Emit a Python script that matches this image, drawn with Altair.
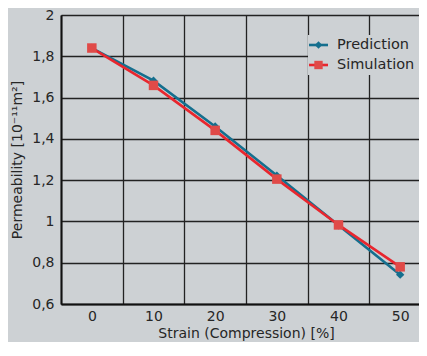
import altair as alt
import pandas as pd

strain = [0, 10, 20, 30, 40, 50]
prediction = [1.84, 1.682, 1.46, 1.222, 0.981, 0.742]
simulation = [1.84, 1.659, 1.441, 1.205, 0.983, 0.78]
series_names = ["Prediction", "Simulation"]
y_ticks = [0.6, 0.8, 1.0, 1.2, 1.4, 1.6, 1.8, 2.0]

rows = []
for s, p, m in zip(strain, prediction, simulation):
    rows.append({"strain": str(s), "value": p, "series": "Prediction"})
    rows.append({"strain": str(s), "value": m, "series": "Simulation"})
df = pd.DataFrame(rows)

TEAL = "#156f8e"
RED = "#e8262e"
RED_FILL = "#e04a48"
BG = "#cdd1d4"
TXT = "#262626"
FONT = "DejaVu Sans"

x_enc = alt.X("strain:O", sort=[str(s) for s in strain],
              title="Strain (Compression) [%]",
              scale=alt.Scale(paddingInner=0, paddingOuter=0, range=[0, 370]),
              axis=alt.Axis(labelAngle=0, tickBand="extent", grid=True,
                            ticks=False, labelPadding=5, titlePadding=3))
y_enc = alt.Y("value:Q", title="Permeability [10⁻¹¹m²]",
              scale=alt.Scale(domain=[0.6, 2.0], nice=False, zero=False),
              axis=alt.Axis(values=y_ticks, ticks=False, grid=True,
                            labelExpr="replace(format(datum.value, '~g'), '.', ',')",
                            labelPadding=7, titlePadding=7))

pred_df = df[df.series == "Prediction"]
sim_df = df[df.series == "Simulation"]

pred_line = alt.Chart(pred_df).mark_line(strokeWidth=2.6, color=TEAL).encode(x=x_enc, y=y_enc)
pred_pts = alt.Chart(pred_df).mark_point(
    shape="diamond", filled=True, size=70, opacity=1, color=TEAL
).encode(x=x_enc, y=y_enc)
sim_line = alt.Chart(sim_df).mark_line(strokeWidth=2.6, color=RED).encode(x=x_enc, y=y_enc)
sim_pts = alt.Chart(sim_df).mark_point(
    shape="square", filled=True, size=90, opacity=1, color=RED_FILL
).encode(x=x_enc, y=y_enc)

# legend
leg_bg = alt.Chart(pd.DataFrame({"a": [1]})).mark_rect(color=BG).encode(
    x=alt.value(247), x2=alt.value(366), y=alt.value(20), y2=alt.value(60))
leg_items = []
for i, (name, lc, mc, shp, sz) in enumerate(
        [("Prediction", TEAL, TEAL, "diamond", 55), ("Simulation", RED, RED_FILL, "square", 70)]):
    yy = 30 + 20 * i
    d = pd.DataFrame({"label": [name]})
    leg_items.append(alt.Chart(d).mark_rule(color=lc, strokeWidth=2.6).encode(
        x=alt.value(248), x2=alt.value(267), y=alt.value(yy)))
    leg_items.append(alt.Chart(d).mark_point(shape=shp, filled=True, size=sz,
                                             opacity=1, color=mc).encode(
        x=alt.value(257.5), y=alt.value(yy)))
    leg_items.append(alt.Chart(d).mark_text(align="left", baseline="middle",
                                            fontSize=14.5, font=FONT, color=TXT).encode(
        x=alt.value(276), y=alt.value(yy), text="label:N"))

chart = alt.layer(pred_line, pred_pts, sim_line, sim_pts, leg_bg, *leg_items).properties(
    width=358, height=289,
    autosize=alt.AutoSizeParams(type="none"),
    padding={"left": 53, "top": 7, "right": 0, "bottom": 38},
    background=BG,
).configure_view(stroke=None, fill=BG).configure_axis(
    gridColor="#222222", gridWidth=1.3, gridOpacity=1,
    domainColor="#111111", domainWidth=2,
    labelFont=FONT, titleFont=FONT, labelColor=TXT, titleColor=TXT,
    labelFontSize=14, titleFontSize=14, titleFontWeight="normal",
)

chart.save("out.html", embed_options={"renderer": "svg", "actions": False})
